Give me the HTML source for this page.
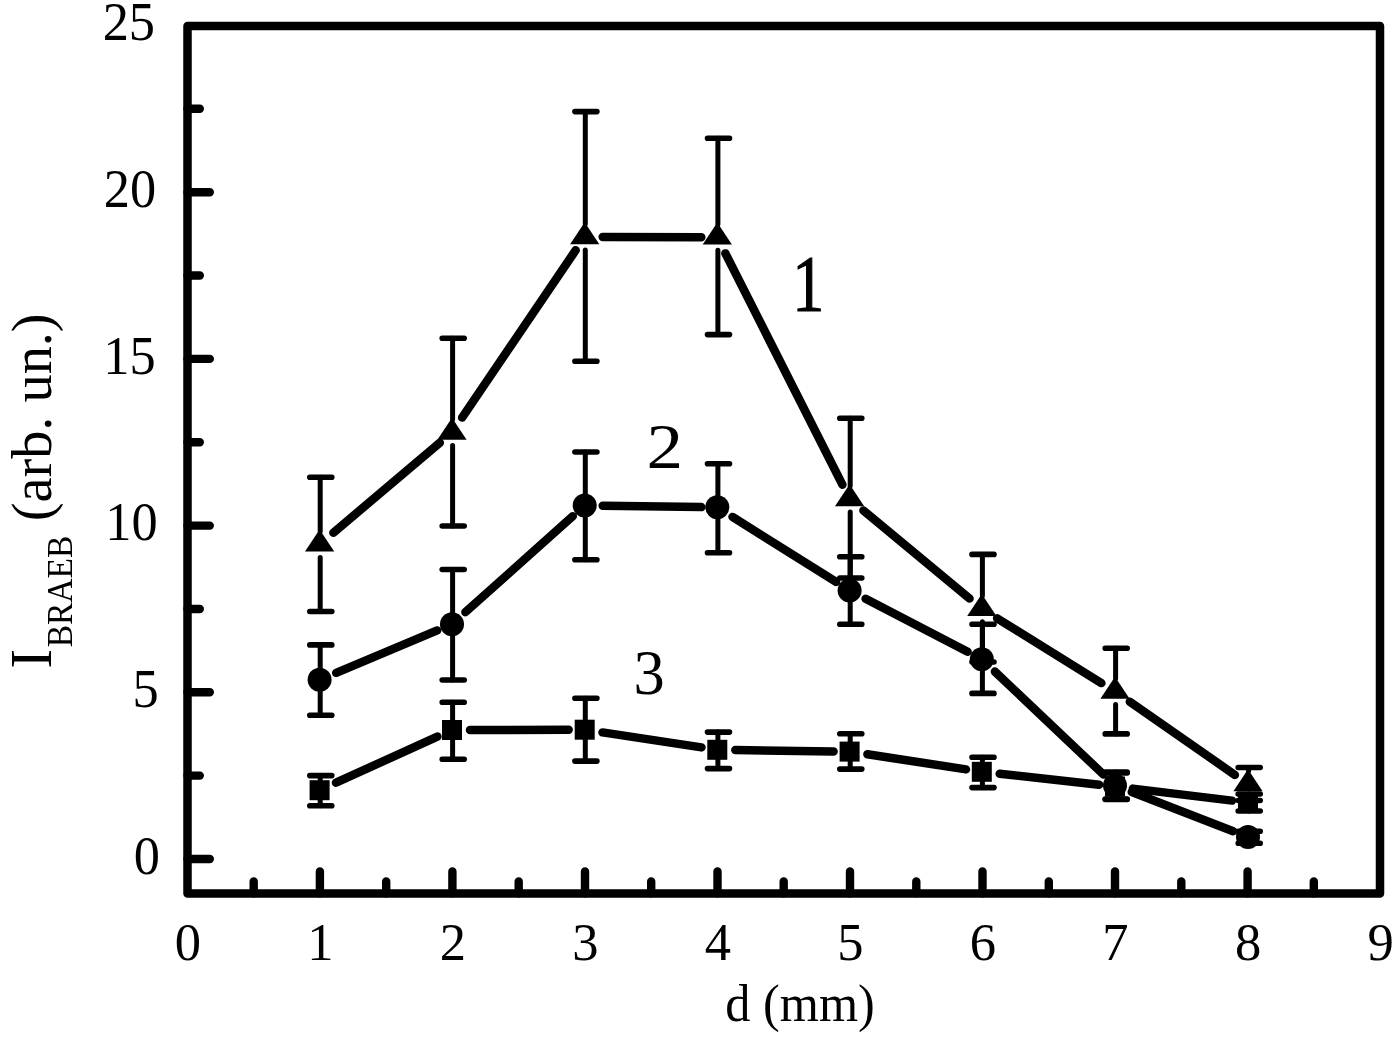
<!DOCTYPE html>
<html><head><meta charset="utf-8"><title>I BRAEB vs d</title>
<style>html,body{margin:0;padding:0;background:#fff;overflow:hidden}svg{display:block}</style></head>
<body>
<svg width="1400" height="1044" viewBox="0 0 1400 1044">
<rect width="1400" height="1044" fill="#fff"/>
<rect x="187.5" y="26.0" width="1192.5" height="867.4" fill="none" stroke="#000" stroke-width="8.5" stroke-linejoin="round"/>
<path d="M319.9 893.4 V871.4 M452.4 893.4 V871.4 M585.0 893.4 V871.4 M717.5 893.4 V871.4 M850.0 893.4 V871.4 M982.5 893.4 V871.4 M1115.0 893.4 V871.4 M1247.6 893.4 V871.4 M253.7 893.4 V881.4 M386.2 893.4 V881.4 M518.7 893.4 V881.4 M651.2 893.4 V881.4 M783.7 893.4 V881.4 M916.3 893.4 V881.4 M1048.8 893.4 V881.4 M1181.3 893.4 V881.4 M1313.8 893.4 V881.4 M187.5 859.0 H209.8 M187.5 692.3 H209.8 M187.5 525.6 H209.8 M187.5 358.9 H209.8 M187.5 192.2 H209.8 M187.5 775.6 H199.8 M187.5 609.0 H199.8 M187.5 442.2 H199.8 M187.5 275.5 H199.8 M187.5 108.8 H199.8" stroke="#000" stroke-width="8.4" stroke-linecap="round" fill="none"/>
<path d="M336.0 782.7L437.4 736.6 M470.0 730.0L568.7 729.7 M602.5 732.4L701.5 747.4 M735.3 750.0L833.6 751.4 M867.4 754.3L966.0 769.4 M999.7 773.8L1099.1 784.7 M1132.9 788.6L1232.1 800.6" stroke="#000" stroke-width="8.5" stroke-linecap="round" fill="none"/>
<path d="M320.2 775.6V805.8 M452.6 702.3V759.2 M585.3 698.3V761.1 M717.9 732.1V768.6 M850.2 733.7V769.1 M982.4 757.3V787.6 M1115.6 773V799.5 M1248.6 794V811" stroke="#000" stroke-width="5.0" stroke-linecap="round" fill="none"/><path d="M309.8 775.6H331.8M309.8 805.8H331.8 M442.2 702.3H464.2M442.2 759.2H464.2 M574.9 698.3H596.9M574.9 761.1H596.9 M707.5 732.1H729.5M707.5 768.6H729.5 M839.8 733.7H861.8M839.8 769.1H861.8 M972.0 757.3H994.0M972.0 787.6H994.0 M1105.2 773H1127.2M1105.2 799.5H1127.2 M1238.2 794H1260.2M1238.2 811H1260.2" stroke="#000" stroke-width="5.6" stroke-linecap="round" fill="none"/>
<path d="M336.2 672.8L437.2 630.4 M465.4 612.2L572.8 516.2 M602.7 505.7L701.3 507.1 M732.5 516.9L836.1 581.9 M865.6 598.7L967.6 651.8 M994.9 671.6L1103.4 774.5 M1131.8 792.0L1233.1 831.2" stroke="#000" stroke-width="8.5" stroke-linecap="round" fill="none"/>
<path d="M320.2 644.9V715.2 M452.6 569.5V680 M585.3 452V559.7 M717.9 463.8V552.8 M850.2 556.7V624.3 M982.4 624.3V693.4 M1115.6 772V799.1 M1248.6 831.2V843.3" stroke="#000" stroke-width="5.0" stroke-linecap="round" fill="none"/><path d="M309.8 644.9H331.8M309.8 715.2H331.8 M442.2 569.5H464.2M442.2 680H464.2 M574.9 452H596.9M574.9 559.7H596.9 M707.5 463.8H729.5M707.5 552.8H729.5 M839.8 556.7H861.8M839.8 624.3H861.8 M972.0 624.3H994.0M972.0 693.4H994.0 M1105.2 772H1127.2M1105.2 799.1H1127.2 M1238.2 831.2H1260.2M1238.2 843.3H1260.2" stroke="#000" stroke-width="5.6" stroke-linecap="round" fill="none"/>
<path d="M333.4 532.7L439.8 442.8 M462.1 417.6L575.7 250.2 M602.7 237.0L701.3 237.3 M725.4 253.4L842.4 484.7 M863.4 510.5L969.5 598.6 M997.1 618.3L1101.4 683.1 M1129.8 701.8L1234.9 774.9" stroke="#000" stroke-width="8.5" stroke-linecap="round" fill="none"/>
<path d="M320.2 477.2V531.4M320.2 557.4V611.5 M452.6 338.2V419.5M452.6 445.5V526 M585.3 111.6V224.0M585.3 250.0V361.2 M717.9 138.3V224.3M717.9 250.3V334.6 M850.2 418.2V486.0M850.2 512.0V578 M982.4 554.4V595.8M982.4 621.8V662 M1115.6 648.3V678.5M1115.6 704.5V733.9 M1248.6 767.5V771.0M1248.6 797.0V800.5" stroke="#000" stroke-width="5.0" stroke-linecap="round" fill="none"/><path d="M309.8 477.2H331.8M309.8 611.5H331.8 M442.2 338.2H464.2M442.2 526H464.2 M574.9 111.6H596.9M574.9 361.2H596.9 M707.5 138.3H729.5M707.5 334.6H729.5 M839.8 418.2H861.8M839.8 578H861.8 M972.0 554.4H994.0M972.0 662H994.0 M1105.2 648.3H1127.2M1105.2 733.9H1127.2 M1238.2 767.5H1260.2M1238.2 800.5H1260.2" stroke="#000" stroke-width="5.6" stroke-linecap="round" fill="none"/>
<g fill="#000"><rect x="309.6" y="780.2" width="20" height="20"/><circle cx="319.6" cy="679.8" r="12"/><path d="M319.6 529.6L334.2 551.6H305.0Z"/><rect x="442.0" y="720.0" width="20" height="20"/><circle cx="452.0" cy="624.2" r="12"/><path d="M452.0 417.7L466.6 439.7H437.4Z"/><rect x="574.7" y="719.7" width="20" height="20"/><circle cx="584.7" cy="505.5" r="12"/><path d="M584.7 222.2L599.3 244.2H570.1Z"/><rect x="707.3" y="739.8" width="20" height="20"/><circle cx="717.3" cy="507.3" r="12"/><path d="M717.3 222.5L731.9 244.5H702.7Z"/><rect x="839.6" y="741.6" width="20" height="20"/><circle cx="849.6" cy="590.4" r="12"/><path d="M849.6 484.2L864.2 506.2H835.0Z"/><rect x="971.8" y="761.8" width="20" height="20"/><circle cx="981.8" cy="659.2" r="12"/><path d="M981.8 594.0L996.4 616.0H967.2Z"/><rect x="1105.0" y="776.5" width="20" height="20"/><circle cx="1115.0" cy="785.5" r="12"/><path d="M1115.0 676.7L1129.6 698.7H1100.4Z"/><rect x="1238.0" y="792.5" width="20" height="20"/><circle cx="1248.0" cy="837.0" r="12"/><path d="M1248.0 769.2L1262.6 791.2H1233.4Z"/></g>
<text transform="translate(160.0 873.6) scale(0.97 1)" font-size="54" text-anchor="end" font-family="Liberation Serif, Times New Roman, serif">0</text>
<text transform="translate(158.8 706.9) scale(0.97 1)" font-size="54" text-anchor="end" font-family="Liberation Serif, Times New Roman, serif">5</text>
<text transform="translate(157.6 540.2) scale(0.97 1)" font-size="54" text-anchor="end" font-family="Liberation Serif, Times New Roman, serif">10</text>
<text transform="translate(155.7 373.5) scale(0.97 1)" font-size="54" text-anchor="end" font-family="Liberation Serif, Times New Roman, serif">15</text>
<text transform="translate(156.2 206.8) scale(0.97 1)" font-size="54" text-anchor="end" font-family="Liberation Serif, Times New Roman, serif">20</text>
<text transform="translate(155.0 40.1) scale(0.97 1)" font-size="54" text-anchor="end" font-family="Liberation Serif, Times New Roman, serif">25</text>
<text transform="translate(187.9 960.3) scale(0.98 1)" font-size="53.6" text-anchor="middle" font-family="Liberation Serif, Times New Roman, serif">0</text>
<text transform="translate(320.4 960.3) scale(0.98 1)" font-size="53.6" text-anchor="middle" font-family="Liberation Serif, Times New Roman, serif">1</text>
<text transform="translate(452.9 960.3) scale(0.98 1)" font-size="53.6" text-anchor="middle" font-family="Liberation Serif, Times New Roman, serif">2</text>
<text transform="translate(585.5 960.3) scale(0.98 1)" font-size="53.6" text-anchor="middle" font-family="Liberation Serif, Times New Roman, serif">3</text>
<text transform="translate(718.0 960.3) scale(0.98 1)" font-size="53.6" text-anchor="middle" font-family="Liberation Serif, Times New Roman, serif">4</text>
<text transform="translate(850.5 960.3) scale(0.98 1)" font-size="53.6" text-anchor="middle" font-family="Liberation Serif, Times New Roman, serif">5</text>
<text transform="translate(983.0 960.3) scale(0.98 1)" font-size="53.6" text-anchor="middle" font-family="Liberation Serif, Times New Roman, serif">6</text>
<text transform="translate(1115.5 960.3) scale(0.98 1)" font-size="53.6" text-anchor="middle" font-family="Liberation Serif, Times New Roman, serif">7</text>
<text transform="translate(1248.1 960.3) scale(0.98 1)" font-size="53.6" text-anchor="middle" font-family="Liberation Serif, Times New Roman, serif">8</text>
<text transform="translate(1380.6 960.3) scale(0.98 1)" font-size="53.6" text-anchor="middle" font-family="Liberation Serif, Times New Roman, serif">9</text>
<text transform="translate(800.0 1021.4) scale(0.95 1)" font-size="53" text-anchor="middle" font-family="Liberation Serif, Times New Roman, serif">d (mm)</text>
<text stroke="#000" stroke-width="1.2" transform="translate(808.2 311.2) scale(0.8 1)" font-size="80" text-anchor="middle" font-family="Liberation Serif, Times New Roman, serif">1</text>
<text transform="translate(664.7 468.0) scale(1.17 1)" font-size="62.5" text-anchor="middle" font-family="Liberation Serif, Times New Roman, serif">2</text>
<text transform="translate(649.2 693.6) scale(1.0 1)" font-size="62.5" text-anchor="middle" font-family="Liberation Serif, Times New Roman, serif">3</text>
<text transform="translate(50.6 668.4) rotate(-90) scale(1.0 1)" font-size="58.5" font-family="Liberation Serif, Times New Roman, serif">I</text>
<text transform="translate(72 647.3) rotate(-90) scale(0.93 1)" font-size="36" font-family="Liberation Serif, Times New Roman, serif">BRAEB</text>
<text transform="translate(51.3 521.3) rotate(-90) scale(0.988 1)" font-size="57" font-family="Liberation Serif, Times New Roman, serif">(arb. un.)</text>
</svg>
</body></html>
